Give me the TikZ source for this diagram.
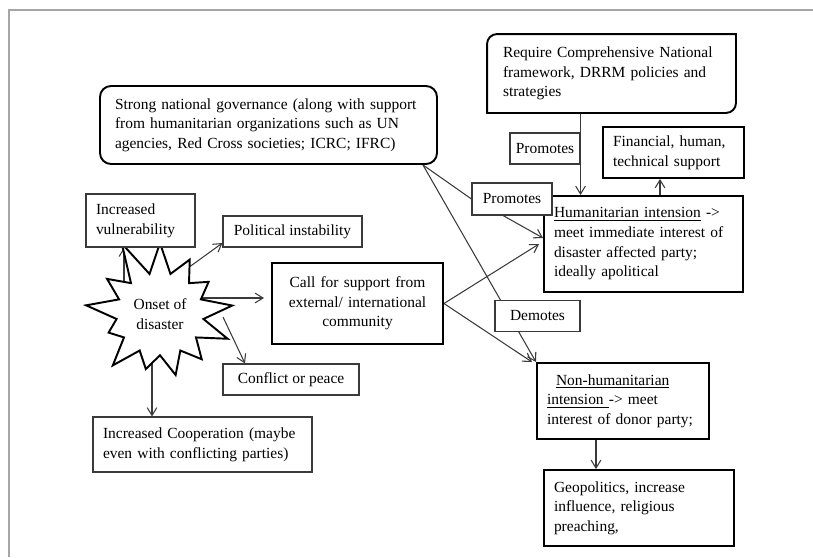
\documentclass[tikz,border=0pt]{standalone}
\usepackage{fontspec}
\setmainfont{Liberation Serif}
\usetikzlibrary{positioning,arrows.meta,shapes.symbols,calc,backgrounds}
\definecolor{frame1}{HTML}{A6A6A6}
\definecolor{line1}{HTML}{3A3A3A}

\begin{document}
\begin{tikzpicture}[
    >={Straight Barb[length=4.5pt,width=5.5pt]},
    font=\fontsize{8.8}{11.2}\selectfont,
    box/.style={draw=line1, line width=0.6pt, fill=white,
                inner xsep=0.2cm, align=left},
    lbox/.style={draw=line1, line width=0.6pt, fill=white,
                 inner xsep=3pt, align=center},
    tbox/.style={draw, line width=1.1pt, fill=white,
                 inner xsep=0.2cm, align=left},
    rbox/.style={draw, line width=1.1pt, fill=white, rounded corners=0.22cm,
                 inner xsep=0.3cm, align=left},
    arr/.style={->, line width=0.6pt, line1},
    lnk/.style={line width=0.6pt, line1},
]
\useasboundingbox (0,0) rectangle (16.26,-11.14);
\draw[frame1, line width=0.8pt] (0.18,-11.14) -- (0.18,-0.2) -- (16.26,-0.2);

% governance and policy
\node[rbox, text width=6.14cm, minimum height=1.56cm] (gov) at (5.37,-2.50)
    {Strong national governance (along with support\\
     from humanitarian organizations such as UN\\
     agencies, Red Cross societies; ICRC; IFRC)};
\node[rbox, draw=none, text width=4.34cm, minimum height=1.54cm]
    (req) at (12.23,-1.47)
    {Require Comprehensive National\\framework, DRRM policies and\\strategies};
\draw[line width=1.1pt] (req.north east) -- ([xshift=0.2cm]req.north west)
    arc[start angle=90, end angle=180, radius=0.2cm] -- (req.south west)
    -- ([xshift=-0.2cm]req.south east)
    arc[start angle=270, end angle=360, radius=0.2cm] -- cycle;

% intentions
\node[tbox, text width=3.58cm, minimum height=1.92cm] (hum) at (12.87,-4.88)
    {\underline{Humanitarian intension} ->\\meet immediate interest of\\
     disaster affected party;\\ideally apolitical};
\node[tbox, text width=2.42cm, minimum height=1.02cm] (fin) at (13.47,-3.05)
    {Financial, human,\\technical support};
\node[tbox, text width=3.04cm, minimum height=1.52cm] (nonhum) at (12.46,-8.02)
    {\hspace*{0.18cm}\underline{Non-humanitarian}\\
     \underline{intension\ }-> meet\\interest of donor party;};
\node[tbox, text width=3.40cm, minimum height=1.52cm] (geo) at (12.78,-10.16)
    {Geopolitics, increase\\influence, religious\\preaching,};

% labels on links
\node[lbox, minimum width=1.40cm, minimum height=0.62cm] (prom1) at (10.90,-2.97) {Promotes};
\node[lbox, minimum width=1.60cm, minimum height=0.64cm] (prom2) at (10.24,-3.98) {Promotes};
\node[lbox, minimum width=1.70cm, minimum height=0.62cm] (dem) at (10.75,-6.32) {Demotes};

% disaster side
\node[draw, line width=1.1pt, fill=white, starburst, starburst points=13,
      starburst point height=0.8cm, random starburst=11,
      minimum width=3.35cm, minimum height=3.25cm, align=center, inner sep=1pt]
    (onset) at (3.20,-6.28) {Onset of\\disaster};
\node[tbox, text width=3.02cm, minimum height=1.62cm, align=center]
    (call) at (7.15,-6.07)
    {Call for support from\\external/ international\\community};
\node[box, text width=1.78cm, minimum height=1.06cm] (vul) at (2.81,-4.41)
    {Increased\\vulnerability};
\node[lbox, minimum width=2.78cm, minimum height=0.62cm] (pol) at (5.85,-4.63)
    {Political instability};
\node[lbox, minimum width=2.72cm, minimum height=0.62cm] (conf) at (5.82,-7.59)
    {Conflict or peace};
\node[box, text width=3.98cm, minimum height=1.10cm] (coop) at (4.05,-8.89)
    {Increased Cooperation (maybe\\even with conflicting parties)};

\begin{scope}[on background layer]
% policy links
\draw[arr] (req.south -| prom1.east) -- (prom1.east |- hum.north);
\draw[arr] ([xshift=0.33cm]hum.north) -- ([xshift=0.33cm]hum.north |- fin.south);
\draw[lnk] ([xshift=-0.3cm]gov.south east) -- (prom2.west);
\draw[arr] ([xshift=-0.18cm]prom2.south) -- ([yshift=0.12cm]hum.west);
\draw[arr] ([xshift=-0.3cm]gov.south east) -- (nonhum.north west);
\draw[arr] (call.east) -- ([xshift=-0.08cm]hum.west);
\draw[arr] (call.east) -- ([xshift=-0.08cm]nonhum.north west);
\draw[arr] ([xshift=-0.54cm]nonhum.south) -- ([xshift=-0.54cm]nonhum.south |- geo.north);

% from the onset
\draw[arr] ($(onset.center)+(-0.72,0.28)$) coordinate (s1) -- (s1 |- vul.south);
\draw[arr] ($(onset.center)+(0.42,0.82)$) -- ([yshift=-0.23cm]pol.west);
\draw[arr] ($(onset.center)+(0.8,0.32)$) coordinate (s3) -- ([xshift=-0.14cm]call.west |- s3);
\draw[arr] ($(onset.center)+(1.26,-0.06)$) -- ([xshift=-0.92cm]conf.north);
\draw[arr] ($(onset.center)+(-0.16,-0.72)$) coordinate (s5) -- (s5 |- coop.north);
\end{scope}
\end{tikzpicture}
\end{document}
